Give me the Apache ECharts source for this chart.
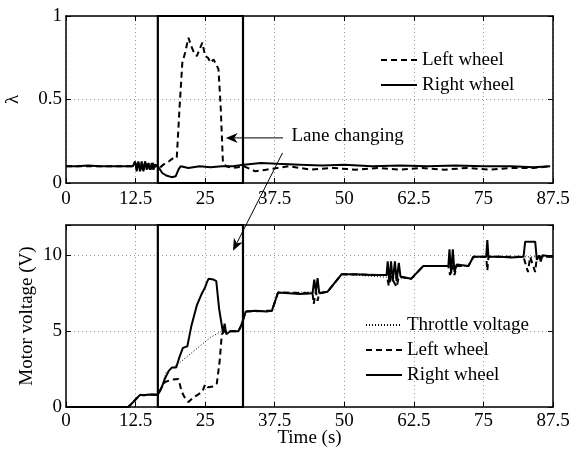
<!DOCTYPE html>
<html><head><meta charset="utf-8">
<script src="https://cdn.jsdelivr.net/npm/echarts@6/dist/echarts.min.js"></script>
<style>html,body{margin:0;padding:0;background:#fff}#c{width:570px;height:449px}</style>
</head><body><div id="c"></div>
<script>
// ---- data ----
var timeTicks = [0, 12.5, 25, 37.5, 50, 62.5, 75, 87.5];
var lambdaTicks = [0, 0.5, 1];
var voltTicks = [0, 5, 10];
var laneChangeWindow = [16.5, 31.8];

var lambdaRight = [[0,0.1],[2,0.1],[4,0.105],[6,0.1],[8,0.1],[10,0.1],[12,0.1],[12.4,0.13],[12.7,0.07],[13,0.13],[13.3,0.07],[13.6,0.13],[13.9,0.07],[14.2,0.13],[14.5,0.08],[14.8,0.12],[15.1,0.08],[15.4,0.12],[15.7,0.08],[16,0.11],[16.5,0.1],[17.3,0.06],[18,0.045],[19,0.035],[19.7,0.04],[20.2,0.08],[20.6,0.1],[22,0.09],[24,0.1],[26,0.095],[28,0.1],[30,0.1],[32,0.11],[35,0.12],[38,0.115],[42,0.11],[46,0.105],[50,0.11],[55,0.1],[60,0.105],[65,0.1],[70,0.105],[75,0.1],[80,0.1],[84,0.095],[87,0.1]];
var lambdaLeft = [[0,0.1],[2,0.1],[4,0.1],[6,0.1],[8,0.1],[10,0.1],[12,0.1],[12.5,0.12],[12.8,0.08],[13.1,0.12],[13.4,0.08],[13.7,0.12],[14,0.08],[14.3,0.12],[14.6,0.08],[14.9,0.12],[15.2,0.08],[15.5,0.12],[16,0.1],[16.8,0.09],[17.5,0.11],[18.5,0.13],[19.3,0.15],[19.9,0.15],[20.4,0.45],[20.9,0.72],[21.4,0.78],[22,0.87],[22.5,0.82],[23,0.78],[23.5,0.76],[24,0.8],[24.5,0.84],[25,0.76],[25.5,0.75],[26,0.72],[26.5,0.74],[27,0.71],[27.4,0.68],[27.8,0.45],[28.2,0.12],[28.8,0.1],[30,0.09],[32,0.1],[34,0.07],[36,0.08],[38,0.09],[40,0.1],[44,0.08],[48,0.09],[52,0.08],[56,0.09],[60,0.08],[64,0.09],[68,0.08],[72,0.09],[76,0.08],[80,0.09],[84,0.09],[87,0.1]];

var throttleV = [[0,0],[11.2,0],[12,0.3],[13.3,0.8],[16.5,0.8],[17.2,1.3],[18,2.3],[20,2.8],[22,3.4],[24,4.0],[26,4.6],[28,5.0],[31,5.0],[32.3,6.3],[37,6.35],[38.1,7.55],[47,7.6],[49.5,8.75],[62,8.45],[64.2,9.3],[72.3,9.3],[73.2,9.9],[87.5,9.9]];
var rightV = [[0,0],[11.2,0],[12,0.3],[13.3,0.8],[14,0.78],[15,0.82],[16.5,0.8],[17.2,1.3],[17.8,1.9],[18.5,2.4],[19,2.6],[19.8,2.6],[20.3,3.2],[21.0,3.9],[21.8,4.0],[22.5,5.3],[23.5,6.7],[24.3,7.4],[25,7.9],[25.3,8.2],[25.6,8.45],[26.5,8.4],[27,8.3],[27.5,6.5],[28.2,4.9],[28.5,5.5],[28.8,4.8],[29.5,5.0],[31,5.0],[31.5,5.4],[32.3,6.3],[34,6.35],[36,6.3],[37,6.35],[38.1,7.55],[40,7.5],[42,7.45],[44.3,7.5],[44.6,8.4],[44.9,7.6],[45.2,8.5],[45.5,7.5],[47,7.6],[49.5,8.75],[52,8.75],[55,8.7],[57.6,8.7],[57.8,9.6],[58.1,8.2],[58.4,9.6],[58.7,8.3],[59.1,9.6],[59.4,8.3],[59.8,9.5],[60.1,8.6],[62,8.45],[64.2,9.3],[66,9.3],[68.7,9.3],[68.9,10.4],[69.2,8.8],[69.5,10.4],[69.8,8.9],[70.2,9.4],[72.3,9.3],[73.2,9.9],[75.5,9.9],[75.7,11.0],[75.9,9.9],[78,9.9],[80,9.85],[82.2,9.9],[82.5,10.9],[84.3,10.9],[84.6,9.7],[85,10.0],[85.3,9.6],[85.6,10.0],[87.5,9.9]];
var leftV = [[0,0],[11.2,0],[12,0.3],[13.3,0.8],[14,0.78],[15,0.82],[16.5,0.8],[17.2,1.3],[17.8,1.65],[19,1.8],[20.2,1.85],[20.8,1.0],[21.5,0.5],[22,0.33],[22.8,0.6],[23.5,0.77],[24.5,1.0],[25,1.5],[25.5,1.3],[26.5,1.35],[27.1,1.55],[27.6,3.0],[28.0,4.8],[28.5,5.0],[31,5.0],[31.5,5.4],[32.3,6.3],[37,6.35],[38.1,7.55],[44.3,7.5],[44.5,6.8],[44.9,7.6],[45.2,7.0],[45.5,7.5],[47,7.6],[49.5,8.75],[57.6,8.7],[58,8.0],[58.4,8.6],[59.4,7.9],[59.8,8.6],[62,8.45],[64.2,9.3],[68.7,9.3],[69,8.7],[69.4,9.3],[69.8,8.7],[70.2,9.3],[72.3,9.3],[73.2,9.9],[75.5,9.9],[75.7,9.0],[75.9,9.9],[82.2,9.9],[83,8.9],[83.4,9.9],[84.3,8.9],[84.6,9.9],[87.5,9.9]];

var annot = {text:'Lane changing', textAt:[40.5,0.27], arrow1:[[39.0,0.27],[28.7,0.27]], arrow2From:[38.9,0.18], arrow2To:[30.0,10.3]};

// ---- chart ----
var FF = 'Liberation Serif';
var chart = echarts.init(document.getElementById('c'));
function xAx(grid, pos, showLabel, name, margin){
  return {type:'value', gridIndex:grid, position:pos, min:timeTicks[0], max:timeTicks[timeTicks.length-1], interval:12.5,
    name:name||'', nameLocation:'middle', nameGap:22, nameMoveOverlap:false, nameTextStyle:{fontFamily:FF,fontSize:19,color:'#000'},
    axisLine:{show:true,onZero:false,lineStyle:{color:'#000',width:1.5}},
    axisTick:{show:true,inside:true,length:5,lineStyle:{color:'#000'}},
    axisLabel:{show:showLabel,fontFamily:FF,fontSize:19,color:'#000',margin:margin||7,formatter:function(v){return String(v);}},
    splitLine:{show:showLabel,lineStyle:{color:'#999',type:[1,3],width:1}}};
}
function yAx(grid, pos, showLabel, min, max, itv, name, gap){
  return {type:'value', gridIndex:grid, position:pos, min:min, max:max, interval:itv,
    name:name||'', nameLocation:'middle', nameGap:gap||30, nameRotate:90, nameMoveOverlap:false, nameTextStyle:{fontFamily:FF,fontSize:19,color:'#000'},
    axisLine:{show:true,onZero:false,lineStyle:{color:'#000',width:1.5}},
    axisTick:{show:true,inside:true,length:5,lineStyle:{color:'#000'}},
    axisLabel:{show:showLabel,fontFamily:FF,fontSize:19,color:'#000',margin:4,
      formatter:function(v){return (v===12)?'':String(v);}},
    splitLine:{show:showLabel,lineStyle:{color:'#999',type:[1,3],width:1}}};
}
var boxArea = {silent:true, itemStyle:{color:'rgba(0,0,0,0)',borderColor:'#000',borderWidth:2.2},
  data:[[{xAxis:laneChangeWindow[0]},{xAxis:laneChangeWindow[1]}]]};
var legText = {fontFamily:FF,fontSize:19,color:'#000',lineHeight:20};

var option = {
  animation:false,
  grid:[{left:66,right:17,top:16,height:167,outerBoundsMode:'none',containLabel:false},
        {left:66,right:17,top:225,height:182,outerBoundsMode:'none',containLabel:false}],
  xAxis:[xAx(0,'bottom',true,'',7), xAx(0,'top',false), xAx(1,'bottom',true,'Time (s)',5), xAx(1,'top',false)],
  yAxis:[yAx(0,'left',true,0,1,0.5,'λ',43), yAx(0,'right',false,0,1,0.5), yAx(1,'left',true,0,12,5,'Motor voltage (V)',29), yAx(1,'right',false,0,12,5)],
  legend:[
    {data:['Left wheel','Right wheel'], orient:'vertical', left:375, top:45, itemWidth:36, itemHeight:14, itemGap:5,
     itemStyle:{opacity:0}, textStyle:legText},
    {data:['Throttle voltage','Left wheel ','Right wheel '], orient:'vertical', left:360, top:310, itemWidth:36, itemHeight:14, itemGap:5,
     itemStyle:{opacity:0}, textStyle:legText,
     formatter:function(n){return n.trim();}}
  ],
  series:[
    {name:'Left wheel', type:'line', xAxisIndex:0, yAxisIndex:0, data:lambdaLeft, showSymbol:false, symbol:'none', lineStyle:{color:'#000',width:2,type:[6,4]}, itemStyle:{color:'#000'}, z:3},
    {name:'Right wheel', type:'line', xAxisIndex:0, yAxisIndex:0, data:lambdaRight, showSymbol:false, symbol:'none', lineStyle:{color:'#000',width:2}, itemStyle:{color:'#000'}, markArea:boxArea, z:4},
    {name:'Throttle voltage', type:'line', xAxisIndex:2, yAxisIndex:2, data:throttleV, showSymbol:false, symbol:'none', lineStyle:{color:'#000',width:1,type:[1,2]}, itemStyle:{color:'#000'}, z:2},
    {name:'Left wheel ', type:'line', xAxisIndex:2, yAxisIndex:2, data:leftV, showSymbol:false, symbol:'none', lineStyle:{color:'#000',width:2,type:[6,4]}, itemStyle:{color:'#000'}, z:3},
    {name:'Right wheel ', type:'line', xAxisIndex:2, yAxisIndex:2, data:rightV, showSymbol:false, symbol:'none', lineStyle:{color:'#000',width:2}, itemStyle:{color:'#000'}, markArea:boxArea, z:4}
  ]
};
chart.setOption(option);

function arrow(p0, p1){
  var dx=p1[0]-p0[0], dy=p1[1]-p0[1], L=Math.sqrt(dx*dx+dy*dy), ux=dx/L, uy=dy/L, hl=12, hw=5;
  var b=[p1[0]-ux*hl, p1[1]-uy*hl], n=[-uy,ux];
  var notch=[p1[0]-ux*hl*0.7, p1[1]-uy*hl*0.7];
  return [
    {type:'line', shape:{x1:p0[0],y1:p0[1],x2:notch[0],y2:notch[1]}, style:{stroke:'#000',lineWidth:1}, z:100},
    {type:'polygon', shape:{points:[p1,[b[0]+n[0]*hw,b[1]+n[1]*hw],notch,[b[0]-n[0]*hw,b[1]-n[1]*hw]]}, style:{fill:'#000'}, z:100}
  ];
}
var tp = chart.convertToPixel({gridIndex:0}, annot.textAt);
var a1 = arrow(chart.convertToPixel({gridIndex:0}, annot.arrow1[0]), chart.convertToPixel({gridIndex:0}, annot.arrow1[1]));
var a2 = arrow(chart.convertToPixel({gridIndex:0}, annot.arrow2From), chart.convertToPixel({gridIndex:1}, annot.arrow2To));
chart.setOption({graphic:[{type:'text', left:tp[0], top:tp[1]-11, style:{text:annot.text, fontFamily:FF, fontSize:19, fill:'#000'}, z:100}].concat(a1, a2)});
</script></body></html>
